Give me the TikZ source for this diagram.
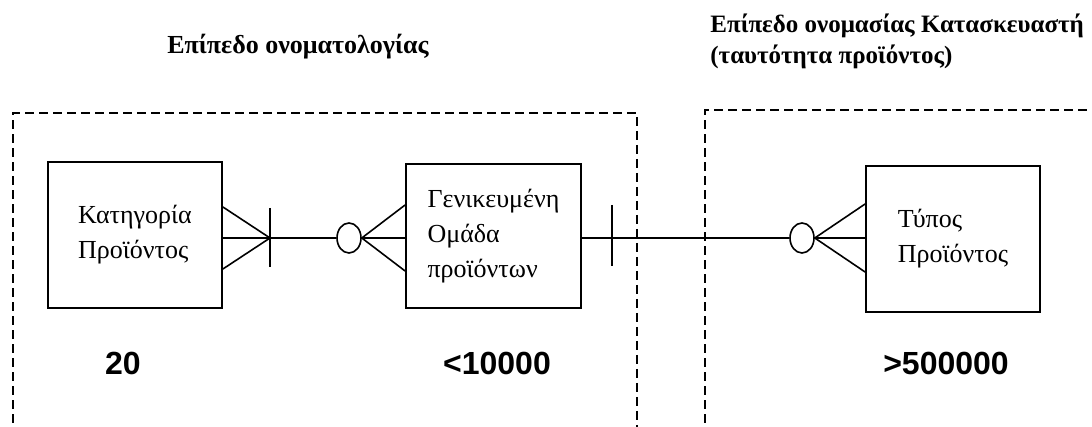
\documentclass[tikz,border=0pt]{standalone}
\usepackage{fontspec}
\setmainfont{Liberation Serif}
\newfontfamily\numfont{Liberation Sans}
\usetikzlibrary{shapes.geometric}
\begin{document}
\begin{tikzpicture}[x=0.5pt,y=0.5pt,
		entity/.style={draw,line width=0.9pt,inner sep=0pt,align=left,font=\fontsize{13}{17.5}\selectfont},
		level/.style={draw,dash pattern=on 4.5pt off 2.5pt,line width=0.75pt},
		count/.style={font=\numfont\bfseries\fontsize{16}{19}\selectfont,inner sep=0pt},
		title/.style={font=\bfseries\fontsize{13}{15.5}\selectfont,inner sep=0pt,align=left},
		opt/.style={draw,ellipse,line width=0.8pt,minimum width=12pt,minimum height=15pt,inner sep=0pt},
		link/.style={line width=0.8pt}]
		\useasboundingbox (0,0) rectangle (1092,427);
		\clip (0,0) rectangle (1092,427);
		%levels
		\draw[level] (13,-10) rectangle (637,314);
		\draw[level] (705,-10) rectangle (1110,317);
		\node[title,anchor=base] (lvlA) at (298,373) {Επίπεδο ονοματολογίας};
		\node[title,font=\bfseries\fontsize{12.5}{15.5}\selectfont,anchor=base west] (lvlB) at (710,363) {Επίπεδο ονομασίας Κατασκευαστή\\(ταυτότητα προϊόντος)};
		
		%entities
		\node[entity,minimum width=87pt,minimum height=73pt] (kat) at (135,192) {Κατηγορία\\Προϊόντος};
		\node[entity,minimum width=87.5pt,minimum height=72pt] (omada) at (493.5,191) {Γενικευμένη\\Ομάδα\\προϊόντων};
		\node[entity,minimum width=87pt,minimum height=73pt] (typos) at (953,188) {Τύπος\\Προϊόντος};
		\node[count,anchor=base] (nKat) at (123,52) {20};
		\node[count,anchor=base] (nOmada) at (497,52) {<10000};
		\node[count,anchor=base] (nTypos) at (946,52) {>500000};
		
		%relations
		\coordinate (cf1) at (270,189);
		\node[opt] (opt1) at (349,189) {};
		\node[opt] (opt2) at (802,189) {};
		\draw[link] (kat.east |- cf1) -- (opt1.west);
		\draw[link] (opt1.east) -- (omada.west |- cf1);
		\draw[link] ([yshift=15.5pt]kat.east |- cf1) -- (cf1) -- ([yshift=-15.5pt]kat.east |- cf1);
		\draw[link] ([yshift=15pt]cf1) -- ([yshift=-14.5pt]cf1);
		\draw[link] ([yshift=16.5pt]omada.west |- cf1) -- (opt1.east) -- ([yshift=-16.5pt]omada.west |- cf1);
		
		\draw[link] (omada.east |- cf1) -- (opt2.west);
		\draw[link] (opt2.east) -- (typos.west |- cf1);
		\draw[link] ([xshift=15pt,yshift=16.5pt]omada.east |- cf1) -- ++(0,-61);
		\draw[link] ([yshift=17pt]typos.west |- cf1) -- (opt2.east) -- ([yshift=-17pt]typos.west |- cf1);
		
		\end{tikzpicture}
\end{document}
